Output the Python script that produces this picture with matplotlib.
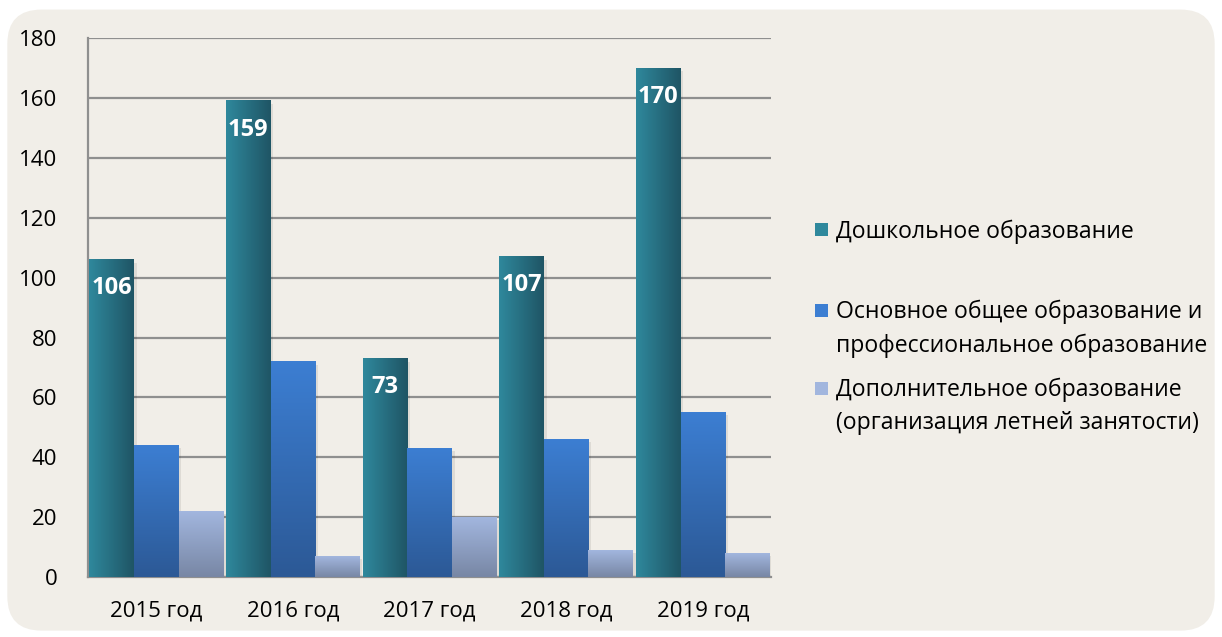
import numpy as np
import matplotlib.pyplot as plt
from matplotlib.patches import FancyBboxPatch, Rectangle
from matplotlib.colors import LinearSegmentedColormap

plt.rcParams['font.family'] = ['Open Sans', 'DejaVu Sans']

# данные
years = ['2015 год', '2016 год', '2017 год', '2018 год', '2019 год']
preschool = [106, 159, 73, 107, 170]
general = [44, 72, 43, 46, 55]
additional = [22, 7, 20, 9, 8]
series_names = ['Дошкольное образование',
                'Основное общее образование и\nпрофессиональное образование',
                'Дополнительное образование\n(организация летней занятости)']

bg = '#F1EEE8'
grid_col = '#8F8F8F'

# градиенты: (цвет1, цвет2, направление)
grads = [('#2F889C', '#1F5565', 'h'),
         ('#3C7ED2', '#2C5996', 'v'),
         ('#A2B6DE', '#7887A5', 'v')]

fig = plt.figure(figsize=(12.22, 6.37), dpi=100)
fig.patch.set_facecolor('white')
fig.patches.append(FancyBboxPatch((0.006, 0.01), 0.988, 0.975,
                                  boxstyle='round,pad=0,rounding_size=0.028',
                                  transform=fig.transFigure, facecolor=bg,
                                  edgecolor='none', zorder=-10,
                                  mutation_aspect=1222 / 637))

ax = fig.add_axes([0.072, 0.094, 0.559, 0.846])
ax.set_facecolor('none')

x = np.arange(len(years))
w = 0.326
data = [preschool, general, additional]

for i, vals in enumerate(data):
    bars = ax.bar(x + (i - 1) * w, vals, w, color='none', zorder=3)
    c1, c2, d = grads[i]
    cmap = LinearSegmentedColormap.from_list('g%d' % i, [c1, c2])
    for b in bars:
        x0, y0 = b.get_x(), b.get_y()
        bw, bh = b.get_width(), b.get_height()
        # тень
        ax.add_patch(Rectangle((x0 + 0.02, y0), bw, bh - 1.0, facecolor='#000000',
                               alpha=0.08, edgecolor='none', zorder=2))
        if d == 'h':
            g = np.linspace(0, 1, 64).reshape(1, -1)
        else:
            g = np.linspace(0, 1, 64).reshape(-1, 1)
        ax.imshow(g, cmap=cmap, extent=[x0, x0 + bw, y0, y0 + bh],
                  origin='upper', aspect='auto', zorder=3, interpolation='bilinear')
    if i == 0:
        for b, v in zip(bars, vals):
            ax.text(b.get_x() + b.get_width() / 2, v - 9.5, str(v),
                    ha='center', va='center', color='white',
                    fontsize=17, fontweight='bold', zorder=5)

ax.set_xlim(-0.5, len(years) - 0.5)
ax.set_ylim(0, 180)
ax.set_yticks(range(0, 181, 20))
ax.set_xticks(x)
ax.set_xticklabels(years)
ax.tick_params(axis='both', length=0, labelsize=16, colors='black')
ax.tick_params(axis='y', pad=22)
ax.tick_params(axis='x', pad=17)
ax.yaxis.grid(True, color=grid_col, linewidth=1.6, zorder=0)
ax.set_axisbelow(True)
for s in ['top', 'right']:
    ax.spines[s].set_visible(False)
for s in ['left', 'bottom']:
    ax.spines[s].set_color(grid_col)
    ax.spines[s].set_linewidth(1.6)

# легенда вручную
leg_y = [230, 310, 388]
for i, name in enumerate(series_names):
    yy = 1 - leg_y[i] / 637
    c1, c2, _ = grads[i]
    fig.patches.append(Rectangle((815 / 1222, yy - 6.5 / 637), 13 / 1222, 13 / 637,
                                 transform=fig.transFigure, facecolor=c1,
                                 edgecolor='none'))
    fig.text(836 / 1222, yy + 10 / 637, name, ha='left', va='top',
             fontsize=16.6, linespacing=1.5)

fig.savefig('out.png', dpi=100, facecolor=fig.get_facecolor())
